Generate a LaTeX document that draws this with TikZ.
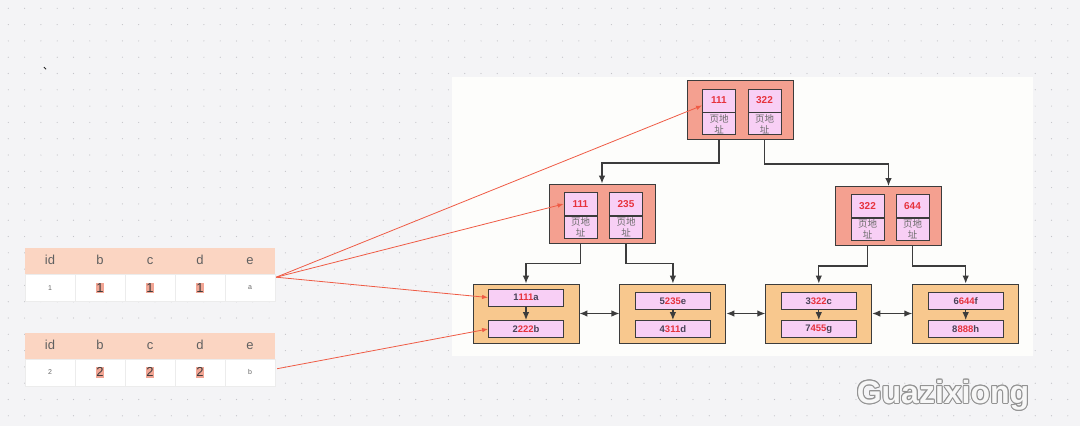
\documentclass[tikz,border=0pt]{standalone}
\usepackage{fontspec}
\setmainfont{Liberation Sans}
\newfontfamily\cjk{Noto Sans CJK SC}
\usetikzlibrary{positioning,calc,arrows.meta}
\definecolor{bggray}{HTML}{F4F4F6}
\definecolor{dotgray}{HTML}{C4C4C8}
\definecolor{panel}{HTML}{FDFDFB}
\definecolor{dark}{HTML}{3C3C3C}
\definecolor{salmon}{HTML}{F4A090}
\definecolor{pinkbox}{HTML}{F8CFF5}
\definecolor{leafor}{HTML}{F8C88E}
\definecolor{keyred}{HTML}{E6323C}
\definecolor{recdark}{HTML}{4A4258}
\definecolor{redline}{HTML}{EF5B45}
\definecolor{peach}{HTML}{FBD5C2}
\definecolor{hl}{HTML}{F2A594}
\setlength{\fboxsep}{0.6pt}

\begin{document}
\begin{tikzpicture}[x=1pt,y=-1pt,>={Latex[length=8pt,width=6.5pt]},
  idx/.style={draw=dark,fill=salmon,line width=0.9pt,minimum width=106pt,minimum height=59pt},
  leaf/.style={draw=dark,fill=leafor,line width=0.9pt,minimum width=106pt,minimum height=59pt},
  key/.style={draw=dark,fill=pinkbox,line width=0.8pt,minimum width=33pt,minimum height=23pt,inner sep=0pt,text=keyred,font=\bfseries\fontsize{10}{10}\selectfont},
  addr/.style={draw=dark,fill=pinkbox,line width=0.8pt,minimum width=33pt,minimum height=22pt,inner sep=0pt,align=center,text=gray!85!black,font=\cjk\fontsize{9.5}{11}\selectfont},
  rec/.style={draw=dark,fill=pinkbox,line width=0.8pt,minimum width=75pt,minimum height=17pt,inner sep=0pt,font=\bfseries\fontsize{9.5}{10}\selectfont},
  link/.style={draw=dark,line width=1.2pt},
  redarr/.style={draw=redline,line width=0.8pt,->,>={Latex[length=6pt,width=4.5pt]}},
  hcell/.style={fill=peach,minimum width=50pt,minimum height=26pt,inner sep=0pt,text height=9.5pt,text depth=2.5pt,text=gray!75!black,font=\fontsize{13}{13}\selectfont},
  rcell/.style={draw=gray!15,fill=white,minimum width=50pt,minimum height=27pt,inner sep=0pt,text=dark,font=\fontsize{13}{13}\selectfont},
  smallval/.style={text=gray!80!black,font=\fontsize{7}{7}\selectfont},
  wm/.style={font=\bfseries\fontsize{32}{32}\selectfont}]

  \useasboundingbox[fill=bggray] (0,0) rectangle (1080,426);
  % dotted grid
  \foreach \i in {0,...,65}{
    \foreach \j in {0,...,25}{
      \fill[dotgray] (8.3+16.3*\i,8.3+16.3*\j) circle (0.6pt);
    }
  }
  \node[font=\cjk\fontsize{10}{10}\selectfont] (mark) at (48,69) {、};

  \fill[panel] (452,77) rectangle (1033,356);

  % index pages
  \node[idx] (root) at (740.5,110) {};
  \node[idx] (ml) at (602,213.5) {};
  \node[idx] (mr) at (888.5,216) {};
  \foreach \nm/\x/\y/\k in {ra/719/100.5/111,rb/764.5/100.5/322,
                            mla/580.5/204/111,mlb/626/204/235,
                            mra/867.5/206/322,mrb/912.5/206/644}{
    \node[key] (\nm) at (\x,\y) {\k};
    \node[addr,below=0pt of \nm] (\nm-a) {页地\\址};
  }

  % leaf pages
  \node[leaf] (l1) at (526,313.5) {};
  \node[leaf,right=40pt of l1] (l2) {};
  \node[leaf,right=39pt of l2] (l3) {};
  \node[leaf,right=40pt of l3] (l4) {};
  \foreach \l/\dy/\ta/\tb/\tc/\ba/\bb/\bc in {l1/-16/1/111/a/2/222/b,
      l2/-12.5/5/235/e/4/311/d,l3/-12.5/3/322/c/7/455/g,l4/-12.5/6/644/f/8/888/h}{
    \node[rec] (\l-a) at ($(\l)+(0,\dy)$)
      {\textcolor{recdark}{\ta}\textcolor{keyred}{\tb}\textcolor{recdark}{\tc}};
    \node[rec] (\l-b) at ($(\l)+(0,15.5)$)
      {\textcolor{recdark}{\ba}\textcolor{keyred}{\bb}\textcolor{recdark}{\bc}};
    \draw[link,->] (\l-a) -- (\l-b);
  }
  \draw[link,<->] (l1) -- (l2);
  \draw[link,<->] (l2) -- (l3);
  \draw[link,<->] (l3) -- (l4);

  % tree links
  \draw[link,->] (ra-a.south |- root.south) -- ++(0,23) -| (ml.north);
  \draw[link,->] (rb-a.south |- root.south) -- ++(0,24) -| (mr.north);
  \draw[link,->] (mla-a.south |- ml.south) -- ++(0,20) -| (l1.north);
  \draw[link,->] (mlb-a.south |- ml.south) -- ++(0,20) -| (l2.north);
  \draw[link,->] (mra-a.south |- mr.south) -- ++(0,20) -| (l3.north);
  \draw[link,->] (mrb-a.south |- mr.south) -- ++(0,20) -| (l4.north);

  % table rows
  \foreach \t/\y/\v/\e in {1/261/1/a,2/345.5/2/b}{
    \foreach \h [count=\i] in {id,b,c,d,e}
      \node[hcell] (t\t h\i) at (50*\i,\y) {\h};
    \node[rcell,smallval,below=0pt of t\t h1] (t\t r1) {\v};
    \foreach \i in {2,3,4}
      \node[rcell,below=0pt of t\t h\i] (t\t r\i) {\colorbox{hl}{\v}};
    \node[rcell,smallval,below=0pt of t\t h5] (t\t r5) {\e};
  }
  \coordinate (s1) at ($(t1r5.north east)+(1,3)$);
  \coordinate (s2) at ($(t2r5.north east)+(2,10)$);
  \draw[redarr] (s1) -- ($(ra.west)+(0,5)$);
  \draw[redarr] (s1) -- (mla.west);
  \draw[redarr] (s1) -- (l1-a.west);
  \draw[redarr] (s2) -- (l1-b.west);

  % watermark
  \foreach \a in {0,30,...,330}
    \node[wm,text=gray!85] (wm\a) at ($(943,395)+(\a:1pt)$) {Guazixiong};
  \node[wm,text=gray!6] (wm) at (943,395) {Guazixiong};
\end{tikzpicture}
\end{document}
